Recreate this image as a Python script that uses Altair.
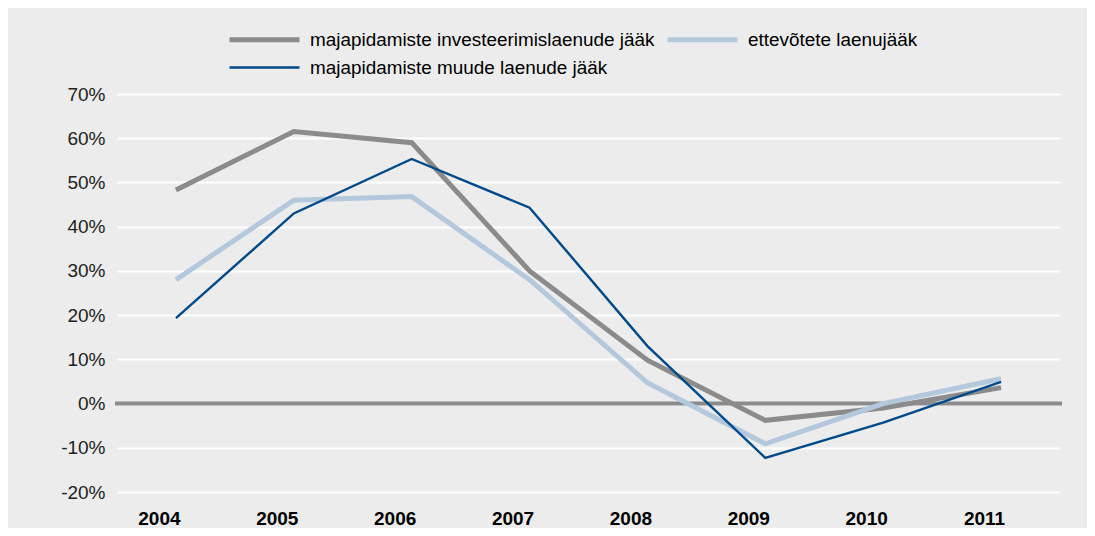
import altair as alt
import pandas as pd

years = ["2004", "2005", "2006", "2007", "2008", "2009", "2010", "2011"]
series_names = [
    "majapidamiste investeerimislaenude jääk",
    "ettevõtete laenujääk",
    "majapidamiste muude laenude jääk",
]
invest = [48.3, 61.5, 59.0, 30.0, 9.8, -3.8, -1.0, 3.6]
ettev = [28.0, 46.0, 46.8, 28.0, 4.7, -9.1, 0.0, 5.6]
muude = [19.3, 43.0, 55.3, 44.3, 13.0, -12.3, -4.3, 4.9]
y_ticks = [-20, -10, 0, 10, 20, 30, 40, 50, 60, 70]
colors = ["#8B8B8B", "#B3C8DD", "#004A8C"]
widths = [5, 5, 2.4]

rows = []
for name, vals in zip(series_names, [invest, ettev, muude]):
    for yr, v in zip(years, vals):
        rows.append({"year": yr, "value": v, "series": name})
df = pd.DataFrame(rows)
zero_df = pd.DataFrame({"v": [0]})

W, H = 943, 398
FONT = "Liberation Sans"

y_scale = alt.Scale(domain=[-20, 70], nice=False, zero=False)
x_enc = alt.X(
    "year:O",
    sort=years,
    scale=alt.Scale(type="point", padding=0.5),
    axis=alt.Axis(
        title=None, domain=False, ticks=False, grid=False,
        labelFont=FONT, labelFontSize=19, labelFontWeight="bold",
        labelColor="#000000", labelPadding=17, labelOffset=-17, labelAngle=0,
    ),
)

zero = alt.Chart(zero_df).mark_rule(color="#8B8B8B", strokeWidth=4).encode(
    y=alt.Y("v:Q", scale=y_scale,
            axis=alt.Axis(
                title=None, values=y_ticks, labelExpr="datum.value + '%'",
                domain=False, ticks=False, grid=True, gridColor="#FFFFFF",
                gridWidth=2, labelFont=FONT, labelFontSize=19,
                labelColor="#222222", labelPadding=12,
            )),
    x=alt.value(-2),
    x2=alt.value(W + 2),
)

leg = dict(
    title=None, orient="none", legendX=135, legendY=-67,
    columns=2, columnPadding=2, rowPadding=6,
    symbolType="M-3.5,0H3.5", symbolSize=400, labelOffset=33, labelLimit=0,
    labelFont=FONT, labelFontSize=18.9, labelColor="#000000",
    direction="horizontal",
)

lines = alt.Chart(df).mark_line().encode(
    x=x_enc,
    y=alt.Y("value:Q", scale=y_scale),
    color=alt.Color(
        "series:N",
        scale=alt.Scale(domain=series_names, range=colors),
        sort=series_names,
        legend=alt.Legend(**leg),
    ),
    strokeWidth=alt.StrokeWidth(
        "series:N",
        scale=alt.Scale(type="ordinal", domain=series_names, range=widths),
        sort=series_names,
        legend=alt.Legend(**leg),
    ),
)

chart = (
    alt.layer(zero, lines)
    .properties(
        width=W, height=H,
        background="#EBECEB",
        padding={"left": 109, "top": 86, "right": 27, "bottom": 36},
        autosize=alt.AutoSizeParams(type="none"),
    )
    .configure_view(stroke=None)
)

chart.save("out.html", embed_options={"renderer": "svg", "actions": False})
